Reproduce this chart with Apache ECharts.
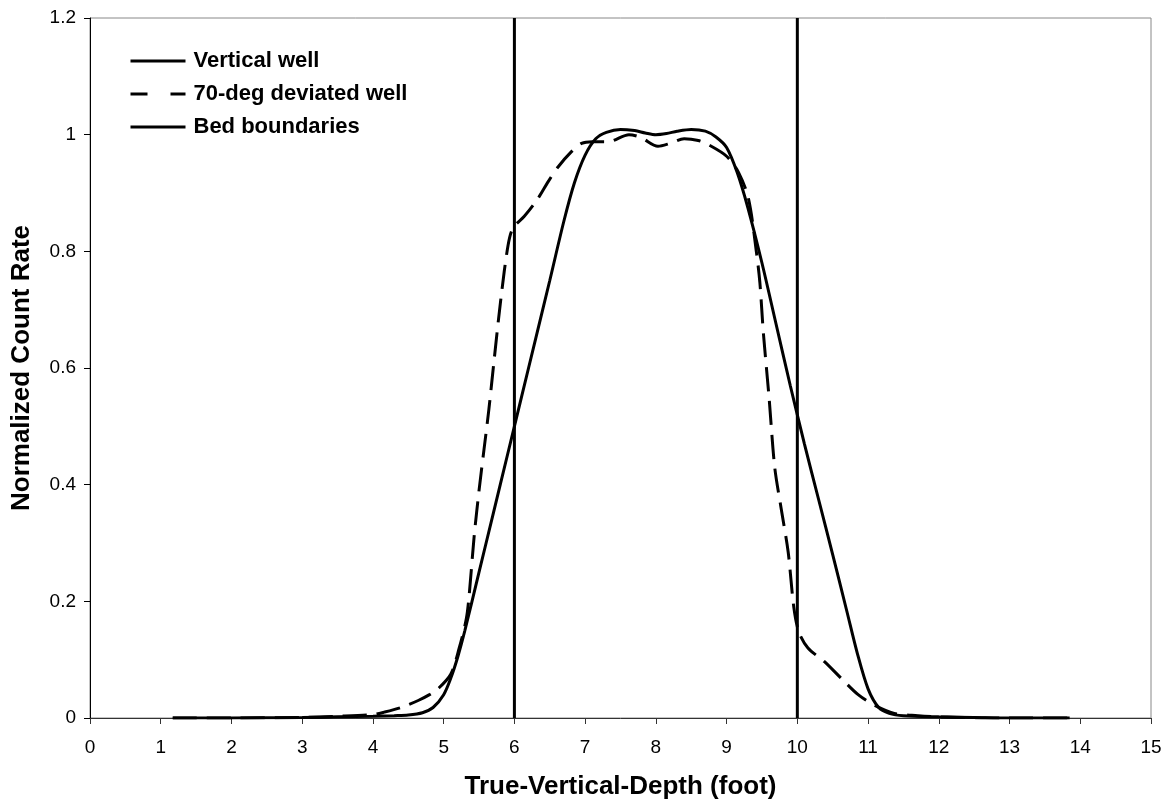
<!DOCTYPE html>
<html>
<head>
<meta charset="utf-8">
<title>Normalized Count Rate</title>
<script src="https://cdn.jsdelivr.net/npm/echarts@6/dist/echarts.min.js"></script>
<style>
  html, body { margin: 0; padding: 0; background: #fff; }
  #chart { width: 1166px; height: 805px; }
</style>
</head>
<body>
<div id="chart"></div>
<script>
// Depth (foot) / normalized count rate
const verticalDepth = [1.17, 2, 3, 3.5, 4, 4.3, 4.5, 4.7, 4.85, 5.0, 5.1, 5.2, 5.3, 5.5, 5.7, 5.9, 6.1, 6.3, 6.5, 6.7,
  6.85, 7.0, 7.15, 7.3, 7.5, 7.7, 7.85, 8.0, 8.15, 8.3, 8.5, 8.7, 8.85, 9.0, 9.15, 9.3, 9.5, 9.7, 9.9, 10.1,
  10.3, 10.5, 10.7, 10.85, 11.0, 11.15, 11.3, 11.5, 12, 12.5, 13, 13.85];
const verticalRate = [0, 0, 0.001, 0.002, 0.003, 0.004, 0.005, 0.009, 0.018, 0.04, 0.068, 0.105, 0.15, 0.25, 0.35, 0.45, 0.55, 0.65, 0.75, 0.852,
  0.918, 0.965, 0.993, 1.004, 1.009, 1.007, 1.003, 1.0, 1.002, 1.006, 1.009, 1.006, 0.996, 0.978, 0.935, 0.875, 0.78, 0.675, 0.57, 0.47,
  0.375, 0.28, 0.183, 0.11, 0.05, 0.018, 0.008, 0.004, 0.002, 0.001, 0, 0];

const deviatedDepth = [1.17, 2, 3, 3.5, 4.0, 4.16, 4.4, 4.64, 4.8, 4.92, 5.1, 5.22, 5.32, 5.36, 5.43, 5.5, 5.57, 5.64, 5.71, 5.81,
  5.91, 5.98, 6.14, 6.33, 6.48, 6.62, 6.8, 6.95, 7.1, 7.33, 7.62, 7.79, 8.03, 8.2, 8.4, 8.6, 8.74, 9.0, 9.17, 9.31,
  9.42, 9.47, 9.52, 9.6, 9.68, 9.77, 9.87, 9.95, 10.02, 10.15, 10.38, 10.62, 10.86, 11.09, 11.37, 11.7, 12, 13, 13.85];
const deviatedRate = [0, 0, 0.001, 0.003, 0.006, 0.01, 0.018, 0.03, 0.04, 0.05, 0.075, 0.12, 0.17, 0.21, 0.31, 0.39, 0.46, 0.53, 0.61, 0.72,
  0.81, 0.84, 0.86, 0.89, 0.92, 0.945, 0.97, 0.985, 0.988, 0.988, 1.0, 0.995, 0.98, 0.985, 0.993, 0.99, 0.983, 0.963, 0.935, 0.89,
  0.80, 0.747, 0.66, 0.55, 0.43, 0.36, 0.285, 0.19, 0.148, 0.12, 0.097, 0.068, 0.04, 0.022, 0.008, 0.004, 0.002, 0, 0];

const boundaryDepths = [6, 10];

const xTicks = { min: 0, max: 15, step: 1 };
const yTicks = { min: 0, max: 1.2, step: 0.2 };

const font = "'Liberation Sans', Arial, sans-serif";

const pairs = (xs, ys) => xs.map((x, i) => [x, ys[i]]);

// vertical lines, broken between boundaries with an empty point
const boundaryData = [];
boundaryDepths.forEach((d, i) => {
  if (i > 0) boundaryData.push([d, '-']);
  boundaryData.push([d, yTicks.min], [d, yTicks.max]);
});

const chart = echarts.init(document.getElementById('chart'));

const option = {
  animation: false,
  backgroundColor: '#fff',
  grid: {
    left: 90,
    top: 18,
    right: 15,
    bottom: 85,
    show: true,
    borderColor: '#888',
    borderWidth: 1,
  },
  legend: {
    orient: 'vertical',
    left: 129,
    top: 50,
    padding: 0,
    itemWidth: 55,
    itemHeight: 14,
    itemGap: 11,
    itemStyle: { opacity: 0 },
    data: [
      { name: 'Vertical well', lineStyle: { width: 3 } },
      { name: '70-deg deviated well', lineStyle: { width: 3, type: [17, 23] } },
      { name: 'Bed boundaries', lineStyle: { width: 3 } },
    ],
    textStyle: {
      fontFamily: font,
      fontWeight: 'bold',
      fontSize: 22,
      lineHeight: 22,
      color: '#000',
      padding: [0, 0, 0, 3],
    },
  },
  xAxis: {
    type: 'value',
    min: xTicks.min,
    max: xTicks.max,
    interval: xTicks.step,
    name: 'True-Vertical-Depth (foot)',
    nameLocation: 'middle',
    nameGap: 56,
    nameTextStyle: { fontFamily: font, fontWeight: 'bold', fontSize: 26, color: '#000' },
    axisLine: { lineStyle: { color: '#333', width: 1 } },
    axisTick: { length: 6, lineStyle: { color: '#333' } },
    axisLabel: { fontFamily: font, fontSize: 19, color: '#000', margin: 20 },
    splitLine: { show: false },
  },
  yAxis: {
    type: 'value',
    min: yTicks.min,
    max: yTicks.max,
    interval: yTicks.step,
    name: 'Normalized Count Rate',
    nameLocation: 'middle',
    nameGap: 55,
    nameTextStyle: { fontFamily: font, fontWeight: 'bold', fontSize: 26, color: '#000' },
    axisLine: { show: true, lineStyle: { color: '#000', width: 1 } },
    axisTick: { show: true, length: 6, lineStyle: { color: '#000' } },
    axisLabel: {
      fontFamily: font, fontSize: 19, color: '#000', margin: 14,
      formatter: (v) => String(Math.round(v * 10) / 10),
    },
    splitLine: { show: false },
  },
  series: [
    {
      name: 'Vertical well',
      type: 'line',
      data: pairs(verticalDepth, verticalRate),
      symbol: 'none',
      smooth: 0.3,
      lineStyle: { color: '#000', width: 3 },
      itemStyle: { color: '#000' },
      z: 3,
    },
    {
      name: '70-deg deviated well',
      type: 'line',
      data: pairs(deviatedDepth, deviatedRate),
      symbol: 'none',
      smooth: 0.3,
      lineStyle: { color: '#000', width: 3, type: [24, 10] },
      itemStyle: { color: '#000' },
      z: 3,
    },
    {
      name: 'Bed boundaries',
      type: 'line',
      data: boundaryData,
      symbol: 'none',
      connectNulls: false,
      lineStyle: { color: '#000', width: 3 },
      itemStyle: { color: '#000' },
      z: 2,
    },
  ],
};

chart.setOption(option);
</script>
</body>
</html>
